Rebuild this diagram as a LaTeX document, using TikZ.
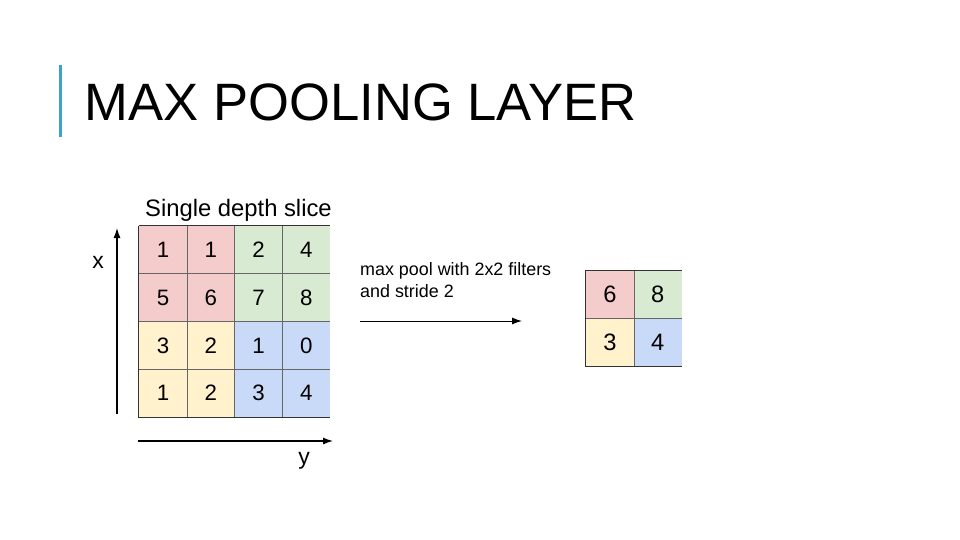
\documentclass[tikz,border=0pt]{standalone}
\usepackage{fontspec}
\setmainfont{Liberation Sans}
\usetikzlibrary{arrows.meta}
\definecolor{cellred}{HTML}{F4CCCC}
\definecolor{cellgreen}{HTML}{D9EAD3}
\definecolor{cellyellow}{HTML}{FFF2CC}
\definecolor{cellblue}{HTML}{C9DAF8}
\definecolor{titlebar}{HTML}{3BA3C9}

\begin{document}
\begin{tikzpicture}[x=1pt, y=-1pt, node distance=47.75pt,
        cell/.style={rectangle, inner sep=0pt, minimum size=47.75pt, font=\fontsize{22.3}{22.3}\selectfont},
        outcell/.style={cell, font=\fontsize{23.7}{23.7}\selectfont},
        label/.style={inner sep=0pt, font=\fontsize{23}{23}\selectfont},
        gridline/.style={draw=black!60, line width=0.75pt},
        border/.style={draw=black!80, line width=1pt},
        axis/.style={line width=1.2pt, -{Latex[length=10pt,width=7pt]}}
    ]
    \useasboundingbox (0,0) rectangle (960,540);

        % Title
        \fill[titlebar] (59,65) rectangle (62,137);
        \node[anchor=base west, inner sep=0pt, font=\fontsize{52.6}{52.6}\selectfont] (title) at (84.5,121) {MAX POOLING LAYER};

        % Nodes: input slice
        \node[anchor=base west, inner sep=0pt, font=\fontsize{23.8}{23.8}\selectfont] (slice) at (145,216.5) {Single depth slice};

        \node[cell, fill=cellred] (c11) at (163,249.9) {1};
        \node[cell, fill=cellred, right of = c11] (c12) {1};
        \node[cell, fill=cellgreen, right of = c12] (c13) {2};
        \node[cell, fill=cellgreen, right of = c13] (c14) {4};

        \node[cell, fill=cellred, below of = c11] (c21) {5};
        \node[cell, fill=cellred, right of = c21] (c22) {6};
        \node[cell, fill=cellgreen, right of = c22] (c23) {7};
        \node[cell, fill=cellgreen, right of = c23] (c24) {8};

        \node[cell, fill=cellyellow, below of = c21] (c31) {3};
        \node[cell, fill=cellyellow, right of = c31] (c32) {2};
        \node[cell, fill=cellblue, right of = c32] (c33) {1};
        \node[cell, fill=cellblue, right of = c33] (c34) {0};

        \node[cell, fill=cellyellow, below of = c31] (c41) {1};
        \node[cell, fill=cellyellow, right of = c41] (c42) {2};
        \node[cell, fill=cellblue, right of = c42] (c43) {3};
        \node[cell, fill=cellblue, right of = c43] (c44) {4};

        % Grid lines (no line on the right edge)
        \draw[gridline] (c21.north west) -- (c24.north east);
        \draw[gridline] (c31.north west) -- (c34.north east);
        \draw[gridline] (c41.north west) -- (c44.north east);
        \draw[gridline] (c11.north east) -- (c41.south east);
        \draw[gridline] (c12.north east) -- (c42.south east);
        \draw[gridline] (c13.north east) -- (c43.south east);
        \draw[border] (c11.north west) -- (c14.north east);
        \draw[border] (c11.north west) -- (c41.south west) -- (c44.south east);

        % Axes
        \coordinate (xstart) at (117,414);
        \coordinate (xend) at (117,228);
        \coordinate (ystart) at (138,441);
        \coordinate (yend) at (333,441);
        \draw[axis] (xstart) -- (xend);
        \draw[axis] (ystart) -- (yend);
        \node[label] (xlabel) at (98,262) {x};
        \node[label] (ylabel) at (304,461) {y};

        % Pooling step
        \node[anchor=north west, inner sep=0pt, align=left, font=\fontsize{17.9}{22}\selectfont] (pooltext) at (360,262) {max pool with 2x2 filters\\and stride 2};
        \coordinate (poolstart) at (360,321);
        \coordinate (poolend) at (522,321);
        \draw[axis, line width=1pt] (poolstart) -- (poolend);

        % Nodes: output
        \node[outcell, fill=cellred] (o11) at (610,294.5) {6};
        \node[outcell, fill=cellgreen, right of = o11] (o12) {8};
        \node[outcell, fill=cellyellow, below of = o11] (o21) {3};
        \node[outcell, fill=cellblue, right of = o21] (o22) {4};

        \draw[gridline] (o21.north west) -- (o22.north east);
        \draw[gridline] (o11.north east) -- (o21.south east);
        \draw[border] (o11.north west) -- (o12.north east);
        \draw[border] (o11.north west) -- (o21.south west) -- (o22.south east);
\end{tikzpicture}
\end{document}
